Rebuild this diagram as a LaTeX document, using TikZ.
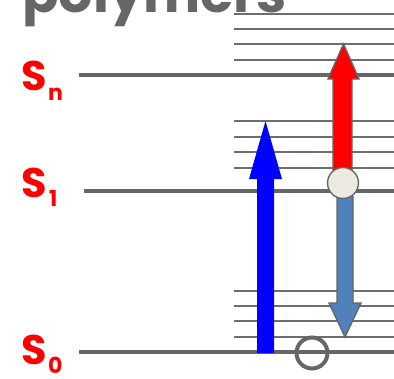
\documentclass[tikz,border=0pt]{standalone}
\usepackage{fontspec}
\newfontfamily\comic{Poppins}
\definecolor{lvlgrey}{HTML}{666666}
\definecolor{thingrey}{HTML}{6E6E6E}
\definecolor{steel}{HTML}{4F81BD}
\definecolor{beige}{HTML}{ECEAE0}
\begin{document}
\begin{tikzpicture}[x=1pt,y=-1pt,
  level/.style={draw=lvlgrey,line width=4.5pt},
  sub/.style={draw=thingrey,line width=1.6pt},
  lbl/.style={text=red,font=\comic\bfseries\fontsize{36}{36}\selectfont,inner sep=0pt,anchor=base west,xscale=1.15,yscale=1.15},
  sublbl/.style={text=red,font=\comic\bfseries\fontsize{22}{22}\selectfont,inner sep=0pt,anchor=base west},
  arrowedge/.style={draw=lvlgrey,line width=1.4pt,line join=miter}]
\useasboundingbox (0,0) rectangle (394,378);
\clip (0,0) rectangle (394,378);
% title (cut off)
\node[text=lvlgrey,font=\comic\bfseries\fontsize{54}{54}\selectfont,inner sep=0pt,anchor=base west] (title) at (22,12) {polymers};
% vibrational sublevels
\foreach \y in {14,29,44,60,121,137,152,168,291,306,321,337}
  \draw[sub] (234,\y) -- (394,\y);
% electronic levels
\draw[level] (79,75) coordinate (snl) -- (394,75);
\draw[level] (84,191) coordinate (s1l) -- (394,191);
\draw[level] (79,352) coordinate (s0l) -- (394,352);
% labels
\node[lbl] (sn) at (21,90) {S};
\node[sublbl] (snsub) at (48,100) {n};
\node[lbl] (s1) at (21,197) {S};
\node[sublbl] (s1sub) at (49,206) {1};
\node[lbl] (s0) at (21,364) {S};
\node[sublbl] (s0sub) at (48,373) {0};
% blue absorption arrow
\fill[blue] (257,353) -- (257,179) -- (249,179) -- (265.5,121) -- (282,179) -- (274,179) -- (274,353) -- cycle;
% red excited-state absorption arrow
\filldraw[fill=red,arrowedge] (333,172) -- (333,79) -- (328,79) -- (343.5,44) -- (359,79) -- (352,79) -- (352,172);
% steel-blue emission arrow
\filldraw[fill=steel,arrowedge] (337,196) -- (337,303) -- (329,303) -- (345,337) -- (361,303) -- (353,303) -- (353,196);
% excited population circle
\node[circle,draw=lvlgrey,fill=beige,line width=1.4pt,minimum size=31pt,inner sep=0pt] (pop) at (343,183) {};
% ground-state hole
\node[circle,draw=lvlgrey,line width=4pt,minimum size=31pt,inner sep=0pt] (hole) at (312,353) {};
\end{tikzpicture}
\end{document}
